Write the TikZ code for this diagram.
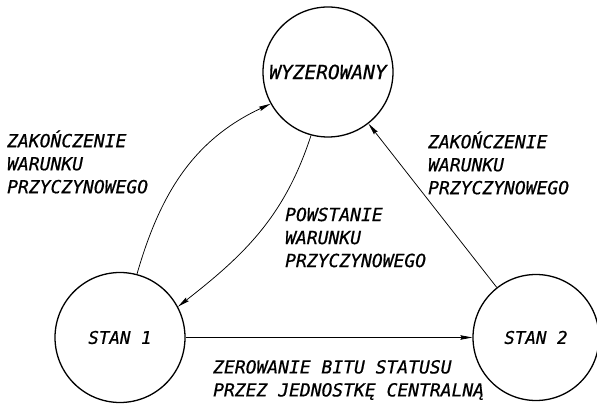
\documentclass[tikz,border=0pt]{standalone}
\usepackage{fontspec}
\newfontfamily\labfont[FakeBold=0.6]{DejaVu Sans Mono}
\usetikzlibrary{arrows.meta}
\tikzset{
  statecirc/.style={draw, line width=1.3pt, circle, minimum size=#1, inner sep=0pt,
    font=\labfont\itshape\fontsize{17.5}{20}\selectfont},
  conn/.style={line width=0.75pt, -{Stealth[length=12pt,width=4.5pt,inset=1.5pt]}},
  lbl/.style={inner sep=0pt, align=left, anchor=west,
    font=\labfont\itshape\fontsize{18}{23}\selectfont}
}
\begin{document}
\begin{tikzpicture}[x=1pt,y=1pt]
\fill[white] (0,0) rectangle (597,404);
\useasboundingbox (0,0) rectangle (597,404);
\node[statecirc=130pt, font=\labfont\itshape\fontsize{19.5}{22}\selectfont] (w) at (328,332) {WYZEROWANY};
\node[statecirc=130pt] (s1) at (120,66.5) {STAN 1};
\node[statecirc=126pt] (s2) at (536,66.5) {STAN 2};
\draw[conn] (s1.75) to[out=74,in=205] (w.209);
\draw[conn] (w.255) to[out=252,in=38] (s1.28);
\draw[conn] (s2) -- (w);
\draw[conn] (s1) -- (s2);
\node[lbl] (l1) at (7,242) {ZAKOŃCZENIE\\WARUNKU\\PRZYCZYNOWEGO};
\node[lbl] (l2) at (428,241) {ZAKOŃCZENIE\\WARUNKU\\PRZYCZYNOWEGO};
\node[lbl] (l3) at (285,166.5) {POWSTANIE\\WARUNKU\\PRZYCZYNOWEGO};
\node[lbl] (l4) at (213,24) {ZEROWANIE BITU STATUSU\\PRZEZ JEDNOSTKĘ CENTRALNĄ};
\end{tikzpicture}
\end{document}
